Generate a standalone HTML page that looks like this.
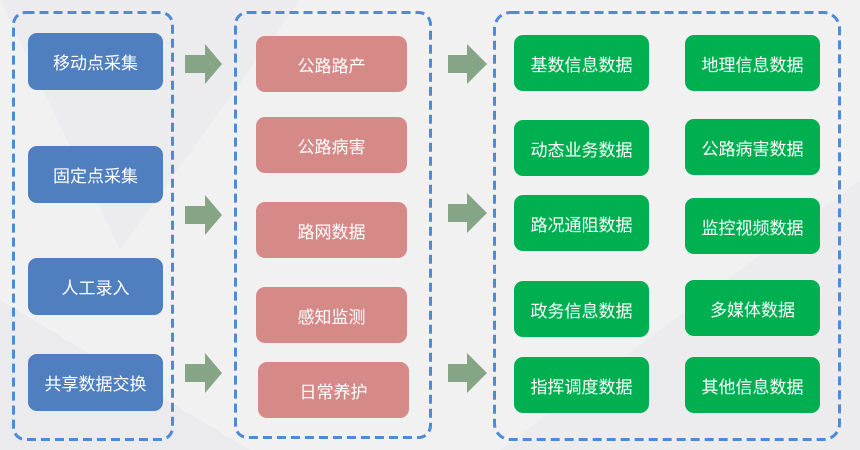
<!DOCTYPE html>
<html><head><meta charset="utf-8"><style>
body{margin:0;width:860px;height:450px;overflow:hidden;background:#f1f1f2;position:relative;font-family:"Liberation Sans","Noto Sans CJK SC",sans-serif}
.b{position:absolute;border-radius:9px;color:#fff;font-size:17px;display:flex;align-items:center;justify-content:center}
.bl{background:#4f7fbe;left:28px;width:135px;height:57px}
.pk{background:#d68a88;left:256px;width:151px;height:56px}
.g{background:#00b050;width:135px;height:56px}
.l{left:514px}.r{left:685px}
svg{position:absolute;left:0;top:0}
</style></head><body>
<svg width="860" height="450">
<polygon points="0,0 300,0 120,250" fill="#ececee"/>
<polygon points="500,450 860,180 860,450" fill="#ececee"/>
<polygon points="0,300 250,450 0,450" fill="#ebebed"/>
<g fill="none" stroke="#4f8ad6" stroke-width="3" stroke-dasharray="9,5">
<rect x="13.5" y="12.5" width="159" height="427" rx="12"/>
<rect x="235.5" y="12.5" width="195" height="425" rx="12"/>
<rect x="494.5" y="12.5" width="345" height="427" rx="16"/>
</g>
<g fill="#86a586">
<polygon points="185,55 205,55 205,44 222,64 205,84 205,73 185,73"/>
<polygon points="185,206 205,206 205,195 222,215 205,235 205,224 185,224"/>
<polygon points="185,364 205,364 205,353 222,373 205,393 205,382 185,382"/>
<polygon points="448,55 467,55 467,44 487,64 467,84 467,73 448,73"/>
<polygon points="448,204 467,204 467,193 487,213 467,233 467,222 448,222"/>
<polygon points="448,364 467,364 467,353 487,373 467,393 467,382 448,382"/>
</g>
</svg>
<div class="b bl" style="top:33px">移动点采集</div>
<div class="b bl" style="top:146px">固定点采集</div>
<div class="b bl" style="top:258px">人工录入</div>
<div class="b bl" style="top:354px">共享数据交换</div>
<div class="b pk" style="top:36px">公路路产</div>
<div class="b pk" style="top:117px">公路病害</div>
<div class="b pk" style="top:202px">路网数据</div>
<div class="b pk" style="top:287px">感知监测</div>
<div class="b pk" style="top:362px;left:258px">日常养护</div>
<div class="b g l" style="top:35px">基数信息数据</div>
<div class="b g r" style="top:35px">地理信息数据</div>
<div class="b g l" style="top:120px">动态业务数据</div>
<div class="b g r" style="top:119px">公路病害数据</div>
<div class="b g l" style="top:195px">路况通阻数据</div>
<div class="b g r" style="top:198px">监控视频数据</div>
<div class="b g l" style="top:281px">政务信息数据</div>
<div class="b g r" style="top:280px">多媒体数据</div>
<div class="b g l" style="top:357px">指挥调度数据</div>
<div class="b g r" style="top:357px">其他信息数据</div>
</body></html>
